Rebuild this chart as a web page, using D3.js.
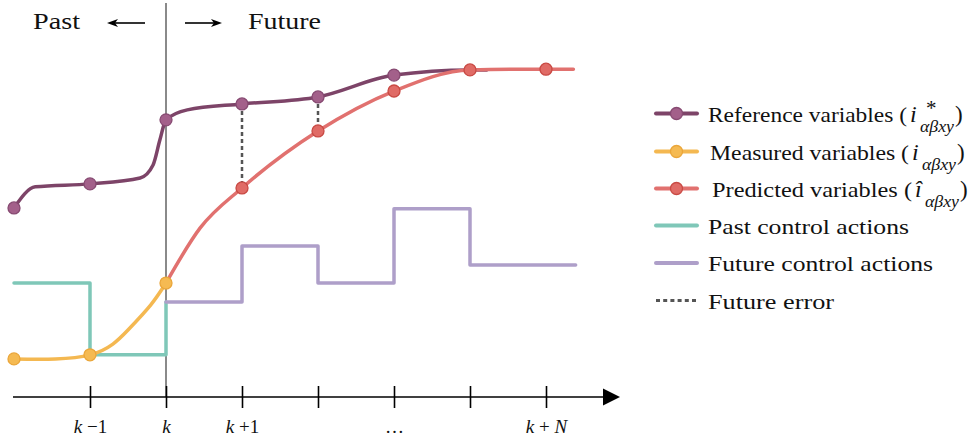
<!DOCTYPE html>
<html>
<head>
<meta charset="utf-8">
<script src="https://cdn.jsdelivr.net/npm/d3@7"></script>
<style>
  body { margin: 0; background: #fff; }
  svg { display: block; }
  text { font-family: "Liberation Serif", "Times New Roman", serif; fill: #111; }
</style>
</head>
<body>
<script>
// step index relative to k (k = 0), values in arbitrary units
var refX   = [-2, -1.72, -1, -0.34, -0.17, -0.08, 0, 0.28, 1, 2, 3, 4, 4.22];
var refY   = [51.1, 56.8, 57.6, 59.2, 62.7, 69.5, 74.9, 77.6, 79.2, 81.1, 87.0, 88.4, 88.4];
var refMarkX = [-2, -1, 0, 1, 2, 3];
var refMarkY = [51.1, 57.6, 74.9, 79.2, 81.1, 87.0];

var measX = [-2, -1, -0.5, -0.2, 0];
var measY = [10.3, 11.4, 18.1, 24.9, 30.8];
var measMarkX = [-2, -1, 0];
var measMarkY = [10.3, 11.4, 30.8];

var predX = [0, 0.45, 1, 2, 3, 4, 5, 5.36];
var predY = [30.8, 45.7, 56.5, 71.9, 82.7, 88.4, 88.6, 88.6];
var predMarkX = [1, 2, 3, 4, 5];
var predMarkY = [56.5, 71.9, 82.7, 88.4, 88.6];

var pastCtrlX = [-2, -1, 0];
var pastCtrlY = [30.8, 11.4, 25.7];
var futCtrlX = [0, 1, 2, 3, 4, 5.39];
var futCtrlY = [25.7, 40.8, 30.8, 50.9, 35.7, 35.7];

var errX = [1, 2];

var tickIdx = [-1, 0, 1, 2, 3, 4, 5];
var tickLabels = ["k \u22121", "k", "k +1", "", "\u2026", "", "k + N"];

var legendNames = ["Reference variables (", "Measured variables (", "Predicted variables (",
                   "Past control actions", "Future control actions", "Future error"];
var legendMath = ["star", "plain", "hat", null, null, null];

var C = {
  ref: "#7d4468", refDot: "#a3608a", refDotS: "#874a72",
  meas: "#f4b851", measDot: "#f5ba52", measDotS: "#eaa63a",
  pred: "#e1716f", predDot: "#e06b66", predDotS: "#c94a44",
  past: "#7fc7b8", fut: "#ae9fc9", err: "#555"
};

var W = 976, H = 442;
var svg = d3.select("body").append("svg").attr("width", W).attr("height", H);

var x = d3.scaleLinear().domain([-2, 5]).range([14, 546]);
var y = d3.scaleLinear().domain([0, 100]).range([397, 27]);
var axisY = y(0);

var zip = function(a, b){ return a.map(function(v, i){ return [v, b[i]]; }); };

// k divider
svg.append("line")
  .attr("x1", x(0)).attr("x2", x(0)).attr("y1", 3).attr("y2", axisY)
  .attr("stroke", "#8a8a8a").attr("stroke-width", 2);

// past / future header
svg.append("text").attr("x", 33).attr("y", 29).attr("font-size", 24)
  .attr("textLength", 47).attr("lengthAdjust", "spacingAndGlyphs").text("Past");
svg.append("text").attr("x", 248).attr("y", 29).attr("font-size", 24)
  .attr("textLength", 73).attr("lengthAdjust", "spacingAndGlyphs").text("Future");
var arrow = function(x1, x2){
  var d = x2 > x1 ? 1 : -1;
  svg.append("line").attr("x1", x1).attr("x2", x2 - d*6).attr("y1", 23).attr("y2", 23)
    .attr("stroke", "#000").attr("stroke-width", 1.6);
  svg.append("path")
    .attr("d", "M" + x2 + ",23 L" + (x2 - d*11) + ",19 L" + (x2 - d*8) + ",23 L" + (x2 - d*11) + ",27 Z")
    .attr("fill", "#000");
};
arrow(145, 107);
arrow(185, 222);

// control actions
var step = d3.line().x(function(d){ return x(d[0]); }).y(function(d){ return y(d[1]); })
  .curve(d3.curveStepAfter);
svg.append("path").attr("d", step(zip(pastCtrlX, pastCtrlY)))
  .attr("fill", "none").attr("stroke", C.past).attr("stroke-width", 3.5)
  .attr("stroke-linejoin", "round").attr("stroke-linecap", "round");
svg.append("path").attr("d", step(zip(futCtrlX, futCtrlY)))
  .attr("fill", "none").attr("stroke", C.fut).attr("stroke-width", 3.5)
  .attr("stroke-linejoin", "round").attr("stroke-linecap", "round");

var smooth = d3.line().x(function(d){ return x(d[0]); }).y(function(d){ return y(d[1]); })
  .curve(d3.curveMonotoneX);

// reference
svg.append("path").attr("d", smooth(zip(refX, refY)))
  .attr("fill", "none").attr("stroke", C.ref).attr("stroke-width", 3.5).attr("stroke-linecap", "round");

// future error
errX.forEach(function(e){
  var r = refMarkY[refMarkX.indexOf(e)], p = predMarkY[predMarkX.indexOf(e)];
  svg.append("line").attr("x1", x(e)).attr("x2", x(e)).attr("y1", y(r)).attr("y2", y(p))
    .attr("stroke", C.err).attr("stroke-width", 2.5).attr("stroke-dasharray", "4,3");
});

// predicted and measured curves
svg.append("path").attr("d", smooth(zip(predX, predY)))
  .attr("fill", "none").attr("stroke", C.pred).attr("stroke-width", 3.5).attr("stroke-linecap", "round");
svg.append("path").attr("d", smooth.curve(d3.curveNatural)(zip(measX, measY)))
  .attr("fill", "none").attr("stroke", C.meas).attr("stroke-width", 3.5).attr("stroke-linecap", "round");

var dots = function(xs, ys, fill, stroke){
  svg.selectAll(null).data(zip(xs, ys)).enter().append("circle")
    .attr("cx", function(d){ return x(d[0]); }).attr("cy", function(d){ return y(d[1]); })
    .attr("r", 6).attr("fill", fill).attr("stroke", stroke).attr("stroke-width", 1.3);
};
dots(refMarkX, refMarkY, C.refDot, C.refDotS);
dots(predMarkX, predMarkY, C.predDot, C.predDotS);
dots(measMarkX, measMarkY, C.measDot, C.measDotS);

// time axis
var axis = d3.axisBottom(x).tickValues(tickIdx).tickSize(0).tickFormat("");
var ag = svg.append("g").attr("transform", "translate(0," + axisY + ")").call(axis);
ag.select(".domain").remove();
ag.append("line").attr("x1", 13).attr("x2", 606).attr("y1", 0).attr("y2", 0)
  .attr("stroke", "#000").attr("stroke-width", 1.6);
ag.append("path").attr("d", "M603,-8.5 L620,0 L603,8.5 Z").attr("fill", "#000");
ag.selectAll(".tick line").attr("y1", -11).attr("y2", 11)
  .attr("stroke", "#000").attr("stroke-width", 1.6);
ag.selectAll(".tick").each(function(d, i){
  var t = d3.select(this).append("text").attr("y", 36).attr("text-anchor", "middle")
    .attr("font-size", 19).attr("fill", "#111");
  tickLabels[i].split(/([kN])/).forEach(function(s){
    if(!s) return;
    t.append("tspan").attr("font-style", /^[kN]$/.test(s) ? "italic" : "normal").text(s);
  });
});

// legend
var legY = [113.5, 151.5, 188.5, 225.5, 263, 300.5];
var legColor = [C.ref, C.meas, C.pred, C.past, C.fut, C.err];
var legDot = [[C.refDot, C.refDotS], [C.measDot, C.measDotS], [C.predDot, C.predDotS], null, null, null];
var legTextW = [199, 199, 200, 201, 225, 126];
var legTextX = [708, 710, 712, 708, 708, 708];

legendNames.forEach(function(name, i){
  var g = svg.append("g").attr("transform", "translate(0," + legY[i] + ")");
  var ln = g.append("line").attr("x1", 656).attr("x2", 697).attr("y1", 0).attr("y2", 0)
    .attr("stroke", legColor[i]).attr("stroke-width", i == 5 ? 3 : 4).attr("stroke-linecap", "round");
  if(i == 5) ln.attr("stroke-dasharray", "4,3.2").attr("stroke-linecap", "butt");
  if(legDot[i]) g.append("circle").attr("cx", 676.5).attr("cy", 0).attr("r", 6)
    .attr("fill", legDot[i][0]).attr("stroke", legDot[i][1]).attr("stroke-width", 1.3);
  var t = g.append("text").attr("x", legTextX[i]).attr("y", 8).attr("font-size", 22);
  t.append("tspan").attr("textLength", legTextW[i]).attr("lengthAdjust", "spacingAndGlyphs").text(name);
  var m = legendMath[i];
  if(m){
    var mx = legTextX[i] + legTextW[i];
    t.append("tspan").attr("x", mx + 3).attr("y", 8).attr("font-size", 24)
      .attr("font-style", "italic").text(m == "hat" ? "\u00ee" : "i");
    if(m == "star") t.append("tspan").attr("x", mx + 18).attr("y", 1).attr("font-size", 21)
      .attr("font-style", "italic").text("*");
    t.append("tspan").attr("x", mx + 13).attr("y", 18).attr("font-size", 16)
      .attr("font-style", "italic").attr("textLength", 34).attr("lengthAdjust", "spacingAndGlyphs")
      .text("\u03b1\u03b2xy");
    t.append("tspan").attr("x", mx + 48).attr("y", 8).attr("font-size", 23).text(")");
  }
});
</script>
</body>
</html>
